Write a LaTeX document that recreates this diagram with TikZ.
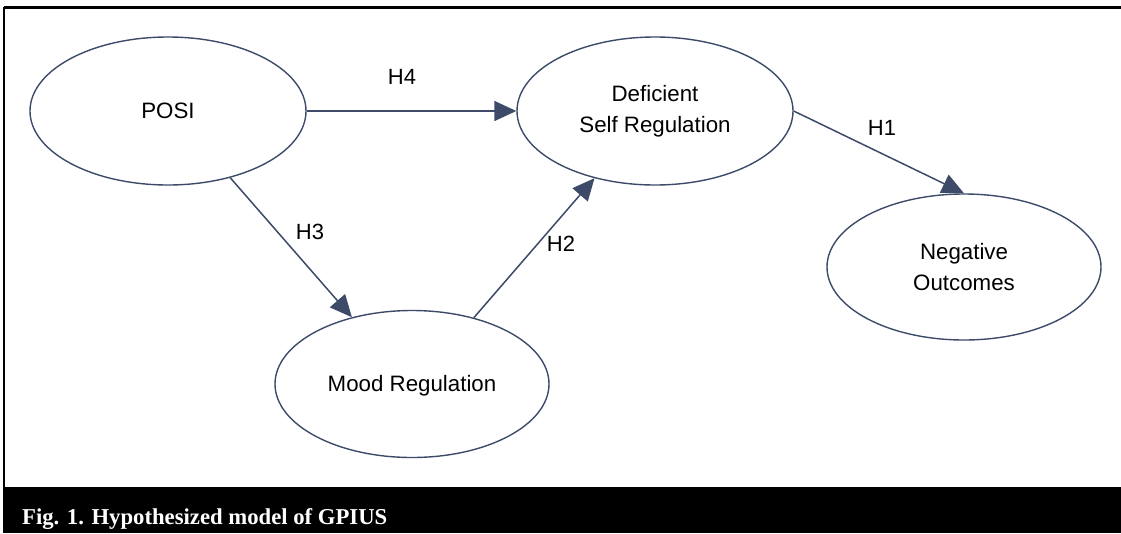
\documentclass[tikz,border=0pt]{standalone}
\usepackage{fontspec}
\setmainfont{Liberation Sans}
\newfontfamily\capfont{Liberation Serif}
\usetikzlibrary{shapes.geometric,arrows.meta}
\definecolor{edge}{RGB}{61,75,105}
\begin{document}
\begin{tikzpicture}[x=1pt,y=-1pt,
  ell/.style={draw=edge,line width=1.4pt,ellipse,minimum width=276pt,minimum height=148pt,inner sep=0pt,align=center,font=\fontsize{22.3}{31}\selectfont},
  conn/.style={draw=edge,line width=1.5pt,-{Triangle[length=22pt,width=20pt]},fill=edge},
  lab/.style={font=\fontsize{22}{26}\selectfont}]
\useasboundingbox (0,0) rectangle (1121,533);
\fill[white] (0,0) rectangle (1121,533);
% frame
\draw[line width=3pt] (3.5,7) -- (1121,7);
\draw[line width=2pt] (4,7) -- (4,490);
\fill[black] (3,487) rectangle (1121,533);
\node[anchor=base west,text=white,font=\capfont\bfseries\fontsize{22.7}{28}\selectfont,inner sep=0pt] (cap) at (22,524) {Fig. 1. Hypothesized model of GPIUS};
% nodes
\node[ell] (posi) at (168,111) {POSI};
\node[ell] (dsr) at (655,111) {Deficient\\ Self Regulation};
\node[ell,minimum width=274pt,minimum height=146pt] (neg) at (964,267) {Negative\\ Outcomes};
\node[ell,minimum width=274pt,minimum height=147pt,text depth=2pt] (mood) at (412,384) {Mood Regulation};
% connectors
\draw[conn] (posi.east) -- (dsr.west);
\draw[conn] (posi.-47) -- (mood.132);
\draw[conn] (mood.47) -- (dsr.-132);
\draw[conn] (dsr.east) -- (neg.north);
% labels
\node[lab] (h4) at (402,77) {H4};
\node[lab] (h3) at (310,232) {H3};
\node[lab] (h2) at (561,244) {H2};
\node[lab] (h1) at (882,128) {H1};
\end{tikzpicture}
\end{document}
